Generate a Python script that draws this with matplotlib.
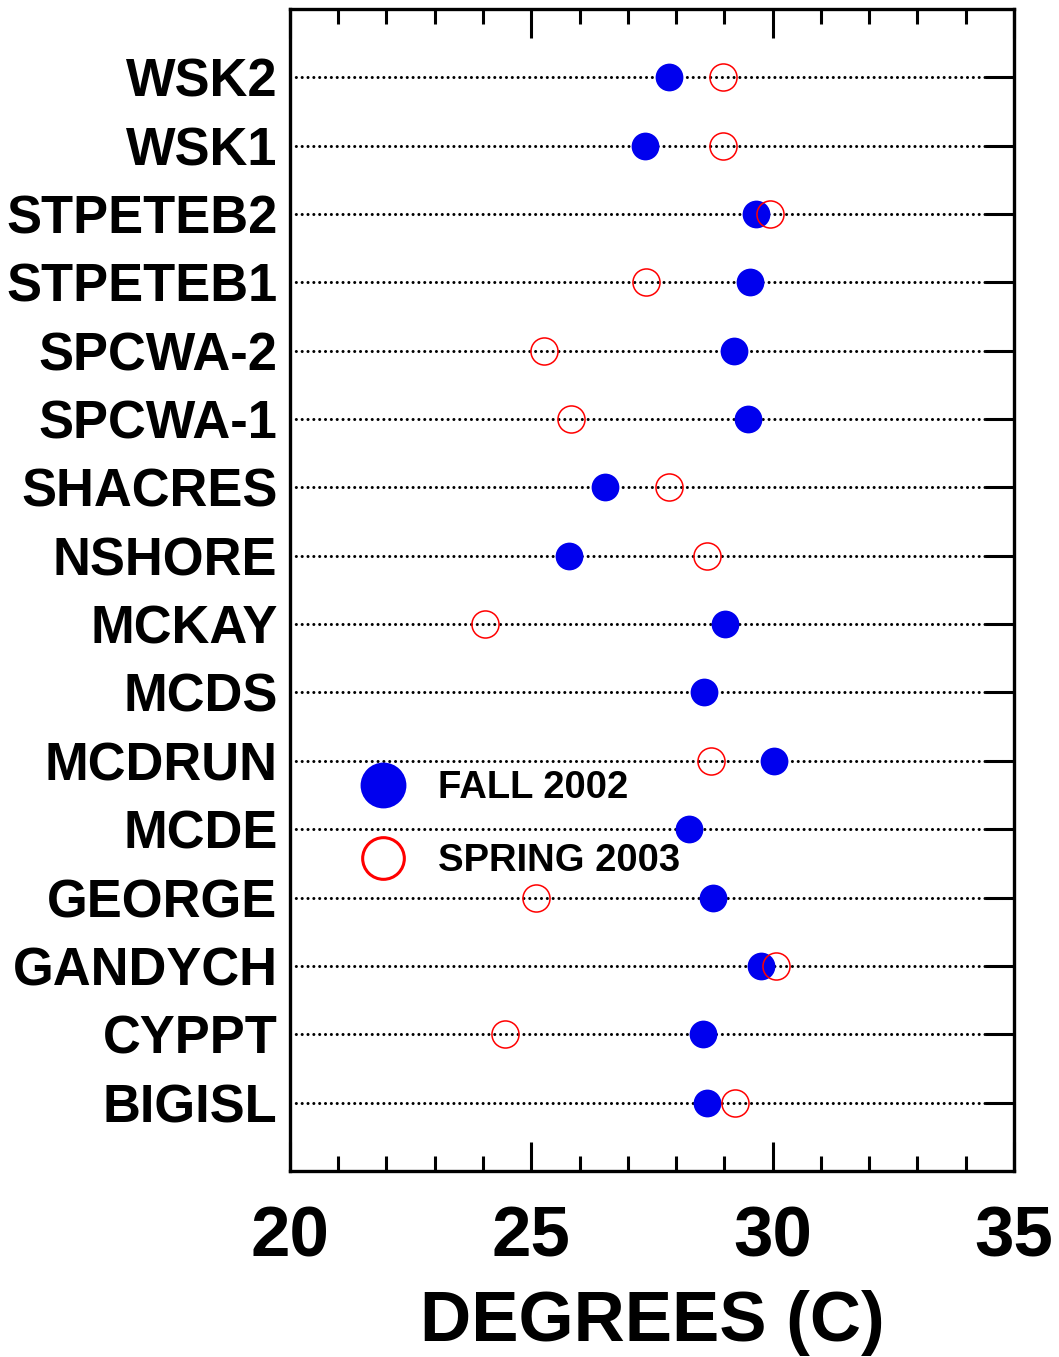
import numpy as np
import matplotlib

matplotlib.use("Agg")
import matplotlib.pyplot as plt
from matplotlib.lines import Line2D
from matplotlib.ticker import MultipleLocator

plt.rcParams["font.family"] = ["Liberation Sans", "DejaVu Sans"]
plt.rcParams["font.weight"] = "bold"

# stations, top to bottom
stations = ["WSK2", "WSK1", "STPETEB2", "STPETEB1", "SPCWA-2", "SPCWA-1",
            "SHACRES", "NSHORE", "MCKAY", "MCDS", "MCDRUN", "MCDE",
            "GEORGE", "GANDYCH", "CYPPT", "BIGISL"]
fall_2002 = [27.85, 27.35, 29.66, 29.53, 29.20, 29.48, 26.52, 25.78,
             29.01, 28.58, 30.02, 28.27, 28.77, 29.75, 28.55, 28.64]
spring_2003 = [28.97, 28.97, 29.94, 27.37, 25.27, 25.83, 27.86, 28.64,
               24.04, np.nan, 28.72, np.nan, 25.10, 30.06, 24.45, 29.21]

fig = plt.figure(figsize=(10.59, 13.57), dpi=100)
ax = fig.add_axes([0.2738, 0.1371, 0.6837, 0.8563])

rows = np.arange(1, len(stations) + 1)

for r in rows:
    ax.axhline(r, color="black", linestyle=(0, (0.01, 1.9)), linewidth=2.2,
               dash_capstyle="round", zorder=1)

ax.plot(fall_2002, rows, "o", color="#0000ee", markersize=20,
        markeredgewidth=0, zorder=3)
ax.plot(spring_2003, rows, "o", markerfacecolor="none", markeredgecolor="red",
        markersize=19.5, markeredgewidth=1.1, zorder=4)

ax.set_xlim(20, 35)
ax.set_ylim(len(stations) + 1, 0)

ax.xaxis.set_major_locator(MultipleLocator(5))
ax.xaxis.set_minor_locator(MultipleLocator(1))
ax.tick_params(axis="x", which="both", direction="in", top=True, width=2.2)
ax.tick_params(axis="x", which="major", length=21, labelsize=51, pad=25)
ax.tick_params(axis="x", which="minor", length=11)

ax.set_yticks(rows)
ax.set_yticklabels(stations)
ax.tick_params(axis="y", which="both", direction="in", left=False, right=True,
               length=21, width=2.2, labelsize=37.8, pad=9)

for lbl in ax.get_xticklabels() + ax.get_yticklabels():
    lbl.set_fontweight("bold")

for spine in ax.spines.values():
    spine.set_linewidth(2.4)

ax.set_xlabel("DEGREES (C)", fontsize=51, fontweight="bold", labelpad=13)

handles = [
    Line2D([], [], marker="o", linestyle="none", color="#0000ee",
           markersize=33, markeredgewidth=0),
    Line2D([], [], marker="o", linestyle="none", markerfacecolor="none",
           markeredgecolor="red", markersize=30, markeredgewidth=2.2),
]
ax.legend(handles, ["FALL 2002", "SPRING 2003"], loc="center left",
          bbox_to_anchor=(0.07, 0.298), frameon=False,
          prop={"weight": "bold", "size": 27.5}, handlelength=1.2,
          handletextpad=0.85, labelspacing=0.98, borderpad=0)

fig.savefig("out.png", dpi=100)
